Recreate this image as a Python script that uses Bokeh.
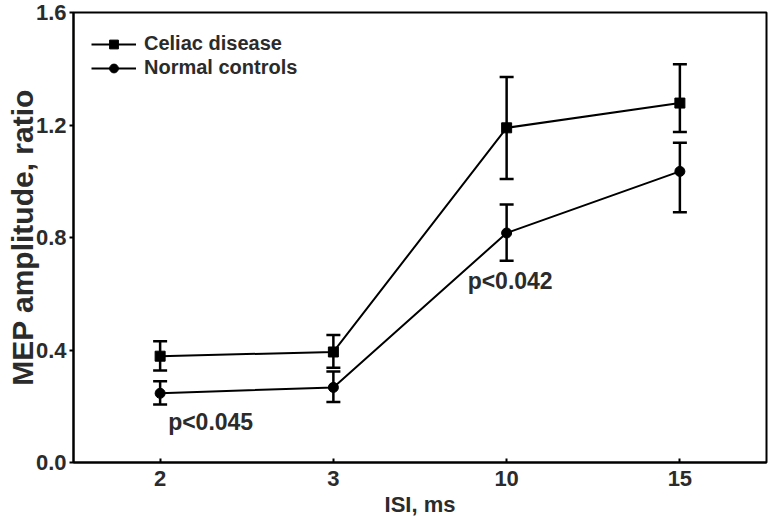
from bokeh.plotting import figure
from bokeh.models import (FactorRange, Range1d, Whisker, TeeHead, ColumnDataSource,
                          FixedTicker, NumeralTickFormatter, Legend, LegendItem)
from bokeh.core.properties import value
from bokeh.embed import file_html
from bokeh.resources import INLINE

isi = ["2", "3", "10", "15"]
celiac = [0.378, 0.393, 1.190, 1.278]
celiac_upper = [0.431, 0.453, 1.371, 1.416]
celiac_lower = [0.327, 0.337, 1.008, 1.175]
normal = [0.246, 0.267, 0.816, 1.035]
normal_upper = [0.289, 0.324, 0.917, 1.137]
normal_lower = [0.206, 0.215, 0.717, 0.890]
y_ticks = [0.0, 0.4, 0.8, 1.2, 1.6]
annot_x = ["2", "10"]
annot_y = [0.145, 0.646]
annot_text = ["p<0.045", "p<0.042"]
annot_offset = [8, -39]

FONT = "Liberation Sans"
TXT = "#2b2b2b"

p = figure(width=768, height=519, x_range=FactorRange(factors=isi), y_range=Range1d(0, 1.6),
           output_backend="svg", toolbar_location=None,
           min_border_left=73, min_border_right=2, min_border_top=12, min_border_bottom=56)
p.background_fill_color = "white"
p.border_fill_color = "white"
p.xgrid.visible = False
p.ygrid.visible = False
p.outline_line_color = "black"
p.outline_line_width = 2

for ax in (p.xaxis[0], p.yaxis[0]):
    ax.axis_line_width = 2
    ax.axis_line_color = "black"
    ax.major_tick_line_width = 2
    ax.major_tick_line_color = "black"
    ax.minor_tick_line_color = None
    ax.major_label_text_font = FONT
    ax.major_label_text_font_style = "bold"
    ax.major_label_text_font_size = "22px"
    ax.major_label_text_color = TXT
    ax.axis_label_text_font = FONT
    ax.axis_label_text_font_style = "bold"
    ax.axis_label_text_color = TXT

p.xaxis[0].axis_label = "ISI, ms"
p.xaxis[0].axis_label_text_font_size = "22px"
p.xaxis[0].axis_label_standoff = 3
p.xaxis[0].axis_label_text_line_height = 0.8
p.xaxis[0].major_label_text_line_height = 0.8
p.xaxis[0].major_tick_in = 4
p.xaxis[0].major_tick_out = 0
p.xaxis[0].major_label_standoff = 8

p.yaxis[0].axis_label = "MEP amplitude, ratio"
p.yaxis[0].axis_label_text_font_size = "30px"
p.yaxis[0].axis_label_standoff = -6
p.yaxis[0].axis_label_text_line_height = 0.75
p.yaxis[0].major_tick_in = 0
p.yaxis[0].major_tick_out = 4
p.yaxis[0].major_label_standoff = 3
p.yaxis[0].ticker = FixedTicker(ticks=y_ticks)
p.yaxis[0].formatter = NumeralTickFormatter(format="0.0")

src_c = ColumnDataSource(dict(x=isi, y=celiac, up=celiac_upper, lo=celiac_lower))
src_n = ColumnDataSource(dict(x=isi, y=normal, up=normal_upper, lo=normal_lower))

for src in (src_c, src_n):
    w = Whisker(base="x", upper="up", lower="lo", source=src, line_width=2.5, line_color="black",
                upper_head=TeeHead(size=14, line_width=2.5, line_color="black"),
                lower_head=TeeHead(size=14, line_width=2.5, line_color="black"))
    p.add_layout(w)

lc = p.line("x", "y", source=src_c, line_width=2, line_color="black")
sc = p.scatter("x", "y", source=src_c, marker="square", size=10, fill_color="black", line_color="black")
ln = p.line("x", "y", source=src_n, line_width=2, line_color="black")
sn = p.scatter("x", "y", source=src_n, marker="circle", size=10, fill_color="black", line_color="black")

legend = Legend(items=[LegendItem(label="Celiac disease", renderers=[lc, sc]),
                       LegendItem(label="Normal controls", renderers=[ln, sn])],
                location=(0, 365), margin=0, padding=18, spacing=1,
                glyph_width=45, glyph_height=22, label_height=22, label_standoff=8,
                label_text_font=FONT, label_text_font_style="bold", label_text_font_size="20px",
                label_text_color=TXT, border_line_alpha=0, background_fill_alpha=0)
p.add_layout(legend)

src_a = ColumnDataSource(dict(x=annot_x, y=annot_y, t=annot_text, off=annot_offset))
p.text(x="x", y="y", text="t", x_offset="off", source=src_a, text_align="left",
       text_baseline="alphabetic", text_font=value(FONT), text_font_style="bold",
       text_font_size="23px", text_color=TXT)

open("out.html", "w").write(file_html(p, INLINE))
